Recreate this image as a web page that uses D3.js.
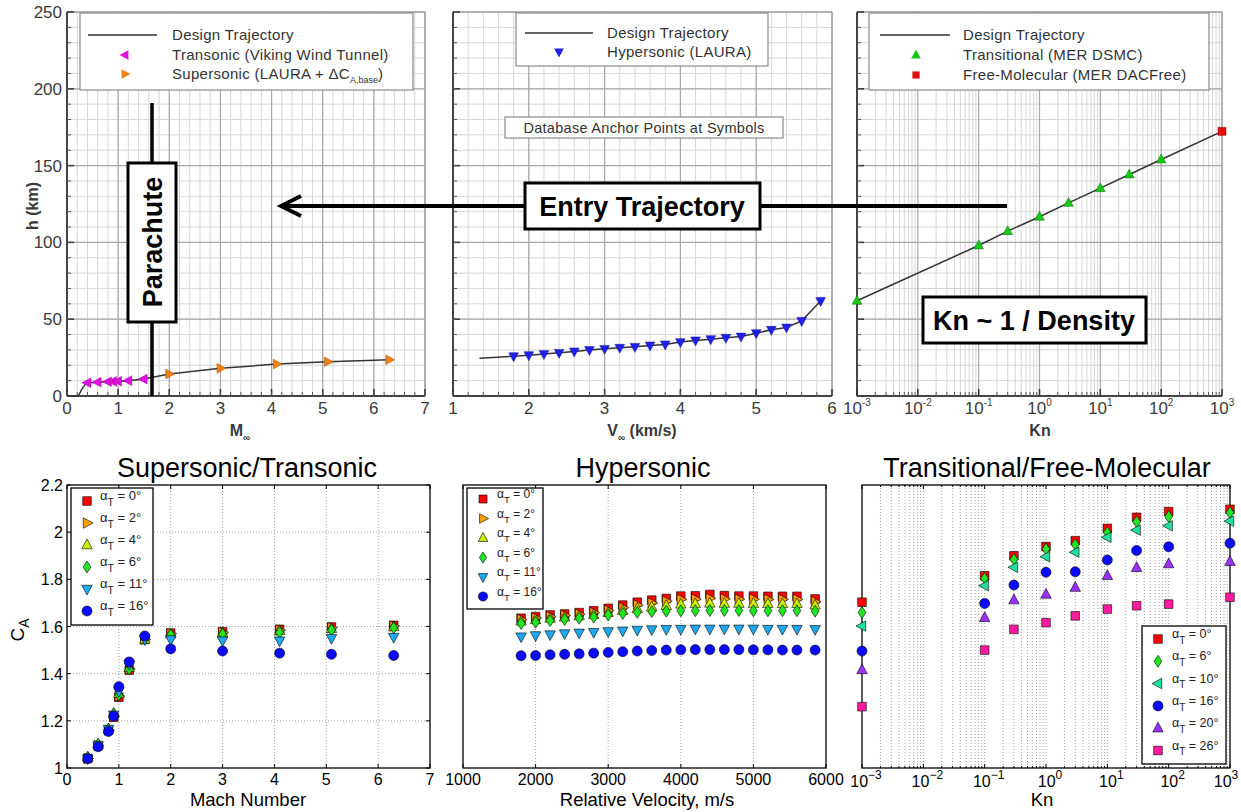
<!DOCTYPE html>
<html><head><meta charset="utf-8">
<script src="https://cdn.jsdelivr.net/npm/d3@7"></script>
<style>body{margin:0;background:#fff;} text{font-family:"Liberation Sans",Arial,Helvetica,sans-serif;}</style>
</head><body><svg id="c" width="1241" height="812"></svg>
<script>
// ---------------- DATA ----------------
// Top row: altitude h (km)
const topHTicks = [0, 50, 100, 150, 200, 250];
const topMachTicks = [0, 1, 2, 3, 4, 5, 6, 7];
const topVelTicks = [1, 2, 3, 4, 5, 6];
const knExps = [-3, -2, -1, 0, 1, 2, 3];

const trajMach  = [0, 0.22, 0.3, 0.38, 0.6, 0.8, 0.9, 1.0, 1.2, 1.5, 2, 3, 4.1, 5.1, 6.3];
const trajMachH = [0, 0, 5, 8.4, 9, 9.3, 9.5, 9.6, 10, 11, 14.3, 18, 20.8, 22.3, 23.6];
const transMach = [0.4, 0.6, 0.8, 0.9, 1.0, 1.2, 1.5];
const transH    = [8.6, 9, 9.3, 9.5, 9.6, 10, 11];
const superMach = [2, 3, 4.1, 5.1, 6.3];
const superH    = [14.3, 18, 20.8, 22.3, 23.6];

const trajVel  = [1.35, 1.8, 2.0, 2.2, 2.4, 2.6, 2.8, 3.0, 3.2, 3.4, 3.6, 3.8, 4.0, 4.2, 4.4, 4.6, 4.8, 5.0, 5.2, 5.4, 5.6, 5.85];
const trajVelH = [24.6, 25.9, 26.6, 27.3, 28.1, 29.0, 29.9, 30.7, 31.4, 32.0, 32.9, 33.6, 35.1, 36.2, 37.0, 37.9, 38.7, 40.9, 43.1, 44.6, 48.9, 61.9];
const hyperVel = [1.8, 2.0, 2.2, 2.4, 2.6, 2.8, 3.0, 3.2, 3.4, 3.6, 3.8, 4.0, 4.2, 4.4, 4.6, 4.8, 5.0, 5.2, 5.4, 5.6, 5.85];
const hyperH   = [25.9, 26.6, 27.3, 28.1, 29.0, 29.9, 30.7, 31.4, 32.0, 32.9, 33.6, 35.1, 36.2, 37.0, 37.9, 38.7, 40.9, 43.1, 44.6, 48.9, 61.9];

const trajKn  = [1e-3, 0.1, 0.3, 1, 3, 10, 30, 100, 1000];
const trajKnH = [62, 98, 107.3, 116.7, 125.7, 135.3, 144.2, 154, 172.3];
const transKn  = [1e-3, 0.1, 0.3, 1, 3, 10, 30, 100];
const transKnH = [62, 98, 107.3, 116.7, 125.7, 135.3, 144.2, 154];
const freeKn  = [1000];
const freeKnH = [172.3];

// Bottom row: axial force coefficient C_A
const caTicks = [1, 1.2, 1.4, 1.6, 1.8, 2, 2.2];
const machTicks = [0, 1, 2, 3, 4, 5, 6, 7];
const velTicks = [1000, 2000, 3000, 4000, 5000, 6000];

const mach = [0.4, 0.6, 0.8, 0.9, 1.0, 1.2, 1.5, 2, 3, 4.1, 5.1, 6.3];
const ssA0  = [1.040, 1.095, 1.160, 1.215, 1.300, 1.415, 1.545, 1.572, 1.578, 1.588, 1.598, 1.605];
const ssA2  = [1.040, 1.095, 1.160, 1.220, 1.305, 1.420, 1.545, 1.570, 1.575, 1.585, 1.595, 1.602];
const ssA4  = [1.045, 1.100, 1.165, 1.230, 1.315, 1.425, 1.545, 1.568, 1.572, 1.582, 1.590, 1.598];
const ssA6  = [1.045, 1.100, 1.165, 1.230, 1.310, 1.420, 1.550, 1.565, 1.568, 1.575, 1.585, 1.595];
const ssA11 = [1.040, 1.095, 1.165, 1.225, 1.325, 1.440, 1.545, 1.545, 1.540, 1.540, 1.550, 1.555];
const ssA16 = [1.040, 1.090, 1.155, 1.220, 1.345, 1.450, 1.560, 1.505, 1.496, 1.487, 1.482, 1.477];

const vel = [1800, 2000, 2200, 2400, 2600, 2800, 3000, 3200, 3400, 3600, 3800, 4000, 4200, 4400, 4600, 4800, 5000, 5200, 5400, 5600, 5850];
const hyA0  = [1.635, 1.642, 1.649, 1.653, 1.659, 1.667, 1.677, 1.691, 1.703, 1.712, 1.719, 1.729, 1.730, 1.736, 1.731, 1.729, 1.729, 1.728, 1.728, 1.728, 1.717];
const hyA2  = [1.630, 1.636, 1.642, 1.647, 1.652, 1.659, 1.668, 1.680, 1.691, 1.700, 1.707, 1.715, 1.716, 1.719, 1.717, 1.716, 1.716, 1.715, 1.715, 1.715, 1.705];
const hyA4  = [1.622, 1.628, 1.634, 1.639, 1.644, 1.650, 1.658, 1.667, 1.675, 1.682, 1.688, 1.694, 1.696, 1.698, 1.697, 1.697, 1.697, 1.696, 1.696, 1.696, 1.690];
const hyA6  = [1.613, 1.618, 1.625, 1.630, 1.635, 1.640, 1.649, 1.655, 1.660, 1.663, 1.665, 1.667, 1.667, 1.668, 1.668, 1.668, 1.667, 1.667, 1.667, 1.667, 1.665];
const hyA11 = [1.557, 1.562, 1.566, 1.570, 1.573, 1.576, 1.579, 1.582, 1.585, 1.587, 1.588, 1.589, 1.590, 1.590, 1.590, 1.590, 1.590, 1.589, 1.589, 1.589, 1.588];
const hyA16 = [1.476, 1.477, 1.480, 1.482, 1.484, 1.487, 1.490, 1.493, 1.496, 1.498, 1.500, 1.501, 1.502, 1.502, 1.502, 1.502, 1.501, 1.501, 1.500, 1.500, 1.500];

const kn = [1e-3, 0.1, 0.3, 1, 3, 10, 30, 100, 1000];
const fmA0  = [1.703, 1.815, 1.900, 1.939, 1.964, 2.016, 2.063, 2.087, 2.097];
const fmA6  = [1.659, 1.804, 1.885, 1.929, 1.948, 1.999, 2.044, 2.066, 2.083];
const fmA10 = [1.602, 1.773, 1.851, 1.896, 1.915, 1.978, 2.009, 2.027, 2.047];
const fmA16 = [1.496, 1.698, 1.776, 1.830, 1.832, 1.882, 1.922, 1.938, 1.953];
const fmA20 = [1.416, 1.637, 1.712, 1.736, 1.765, 1.815, 1.849, 1.865, 1.875];
const fmA26 = [1.260, 1.500, 1.588, 1.616, 1.645, 1.674, 1.688, 1.695, 1.724];

// ---------------- DRAWING ----------------
const svg = d3.select('#c');
svg.append('rect').attr('width', 1241).attr('height', 812).attr('fill', '#fff');

function shape(type, s) {
  const p = d3.path();
  if (type === 'square') { p.rect(-s, -s, 2 * s, 2 * s); }
  else if (type === 'circle') { p.arc(0, 0, s, 0, 2 * Math.PI); p.closePath(); }
  else if (type === 'diamond') { p.moveTo(0, -s * 1.3); p.lineTo(s * 0.85, 0); p.lineTo(0, s * 1.3); p.lineTo(-s * 0.85, 0); p.closePath(); }
  else {
    const pts = {
      up: [[0, -1.2], [1.05, 0.75], [-1.05, 0.75]],
      down: [[0, 1.2], [1.05, -0.75], [-1.05, -0.75]],
      left: [[-1.2, 0], [0.75, -1.05], [0.75, 1.05]],
      right: [[1.2, 0], [-0.75, -1.05], [-0.75, 1.05]]
    }[type];
    p.moveTo(pts[0][0] * s, pts[0][1] * s);
    p.lineTo(pts[1][0] * s, pts[1][1] * s);
    p.lineTo(pts[2][0] * s, pts[2][1] * s);
    p.closePath();
  }
  return p.toString();
}

// ===== TOP ROW =====
const hY = d3.scaleLinear().domain([0, 250]).range([396, 12]);
const xMach = d3.scaleLinear().domain([0, 7]).range([67, 425]);
const xVel = d3.scaleLinear().domain([1, 6]).range([453, 832]);
const xKnT = d3.scaleLog().domain([1e-3, 1e3]).range([857, 1222]);

function logMinors(lo, hi) {
  const out = [];
  for (let d = lo; d < hi; d++) for (let m = 2; m <= 9; m++) out.push(m * Math.pow(10, d));
  return out;
}

function topFrame(x, majors, minors) {
  const g = svg.append('g');
  const [x0, x1] = x.range();
  const y0 = hY(0), y1 = hY(250);
  const hMinor = d3.range(0, 251, 10);
  g.selectAll('.vm').data(minors).join('line')
    .attr('x1', d => x(d)).attr('x2', d => x(d)).attr('y1', y1).attr('y2', y0)
    .attr('stroke', '#d6d6d6').attr('stroke-width', 1);
  g.selectAll('.hm').data(hMinor).join('line')
    .attr('x1', x0).attr('x2', x1).attr('y1', d => hY(d)).attr('y2', d => hY(d))
    .attr('stroke', '#d6d6d6').attr('stroke-width', 1);
  g.selectAll('.vM').data(majors).join('line')
    .attr('x1', d => x(d)).attr('x2', d => x(d)).attr('y1', y1).attr('y2', y0)
    .attr('stroke', '#a8a8a8').attr('stroke-width', 1.2);
  g.selectAll('.hM').data(topHTicks).join('line')
    .attr('x1', x0).attr('x2', x1).attr('y1', d => hY(d)).attr('y2', d => hY(d))
    .attr('stroke', '#a8a8a8').attr('stroke-width', 1.2);
  g.append('rect').attr('x', x0).attr('y', y1).attr('width', x1 - x0).attr('height', y0 - y1)
    .attr('fill', 'none').attr('stroke', '#9a9a9a').attr('stroke-width', 1);
  g.append('line').attr('x1', x0).attr('x2', x0).attr('y1', y1).attr('y2', y0).attr('stroke', '#444').attr('stroke-width', 2);
  g.append('line').attr('x1', x0).attr('x2', x1).attr('y1', y0).attr('y2', y0).attr('stroke', '#444').attr('stroke-width', 2);
  g.selectAll('.tM').data(majors).join('line')
    .attr('x1', d => x(d)).attr('x2', d => x(d)).attr('y1', y0).attr('y2', y0 - 7).attr('stroke', '#333').attr('stroke-width', 1.5);
  g.selectAll('.tm').data(minors).join('line')
    .attr('x1', d => x(d)).attr('x2', d => x(d)).attr('y1', y0).attr('y2', y0 - 4).attr('stroke', '#555').attr('stroke-width', 1);
  g.selectAll('.tyM').data(topHTicks).join('line')
    .attr('x1', x0).attr('x2', x0 + 7).attr('y1', d => hY(d)).attr('y2', d => hY(d)).attr('stroke', '#333').attr('stroke-width', 1.5);
  g.selectAll('.tym').data(hMinor).join('line')
    .attr('x1', x0).attr('x2', x0 + 4).attr('y1', d => hY(d)).attr('y2', d => hY(d)).attr('stroke', '#555').attr('stroke-width', 1);
  return g;
}

const tickFont = 17, tickCol = '#3a3a3a';
// Panel 1
const g1 = topFrame(xMach, topMachTicks, d3.range(0, 7.001, 0.2));
g1.selectAll('.xl').data(topMachTicks).join('text')
  .attr('x', d => xMach(d)).attr('y', 414).attr('text-anchor', 'middle')
  .attr('font-size', tickFont).attr('fill', tickCol).text(d => d);
g1.selectAll('.yl').data(topHTicks).join('text')
  .attr('x', 62).attr('y', d => hY(d) + 6).attr('text-anchor', 'end')
  .attr('font-size', tickFont).attr('fill', tickCol).text(d => d);
svg.append('text').attr('transform', 'translate(38,206) rotate(-90)').attr('text-anchor', 'middle')
  .attr('font-size', 16).attr('font-weight', 'bold').attr('fill', '#3a3a3a').text('h (km)');
{
  const t = svg.append('text').attr('x', 240).attr('y', 436).attr('text-anchor', 'middle')
    .attr('font-size', 16).attr('font-weight', 'bold').attr('fill', '#3a3a3a');
  t.append('tspan').text('M');
  t.append('tspan').attr('font-size', 10).attr('dy', 5).text('∞');
}
const lineGen = (x, xs, ys) => d3.line().x(i => x(xs[i])).y(i => hY(ys[i]))(d3.range(xs.length));
g1.append('path').attr('d', lineGen(xMach, trajMach, trajMachH)).attr('fill', 'none').attr('stroke', '#333').attr('stroke-width', 1.5);
g1.selectAll('.tr').data(transMach).join('path')
  .attr('transform', (d, i) => `translate(${xMach(d)},${hY(transH[i])})`)
  .attr('d', shape('left', 4.6)).attr('fill', '#e010e0').attr('stroke', '#a000a0').attr('stroke-width', 0.5);
g1.selectAll('.su').data(superMach).join('path')
  .attr('transform', (d, i) => `translate(${xMach(d)},${hY(superH[i])})`)
  .attr('d', shape('right', 4.6)).attr('fill', '#f08010').attr('stroke', '#a05000').attr('stroke-width', 0.5);

// Panel 2
const g2 = topFrame(xVel, topVelTicks, d3.range(1, 6.001, 0.2));
g2.selectAll('.xl').data(topVelTicks).join('text')
  .attr('x', d => xVel(d)).attr('y', 414).attr('text-anchor', 'middle')
  .attr('font-size', tickFont).attr('fill', tickCol).text(d => d);
{
  const t = svg.append('text').attr('x', 642).attr('y', 436).attr('text-anchor', 'middle')
    .attr('font-size', 16).attr('font-weight', 'bold').attr('fill', '#3a3a3a');
  t.append('tspan').text('V');
  t.append('tspan').attr('font-size', 10).attr('dy', 5).text('∞');
  t.append('tspan').attr('dy', -5).text(' (km/s)');
}
g2.append('path').attr('d', lineGen(xVel, trajVel, trajVelH)).attr('fill', 'none').attr('stroke', '#333').attr('stroke-width', 1.5);
g2.selectAll('.hy').data(hyperVel).join('path')
  .attr('transform', (d, i) => `translate(${xVel(d)},${hY(hyperH[i])})`)
  .attr('d', shape('down', 4.6)).attr('fill', '#2020e8').attr('stroke', '#10108a').attr('stroke-width', 0.5);

// Panel 3
const g3 = topFrame(xKnT, knExps.map(e => Math.pow(10, e)), logMinors(-3, 3));
knExps.forEach(e => {
  const t = g3.append('text').attr('x', xKnT(Math.pow(10, e))).attr('y', 414).attr('text-anchor', 'middle')
    .attr('font-size', tickFont).attr('fill', tickCol);
  t.append('tspan').text('10');
  t.append('tspan').attr('font-size', 10).attr('dy', -8).text(e);
});
svg.append('text').attr('x', 1040).attr('y', 436).attr('text-anchor', 'middle')
  .attr('font-size', 16).attr('font-weight', 'bold').attr('fill', '#3a3a3a').text('Kn');
g3.append('path').attr('d', lineGen(xKnT, trajKn, trajKnH)).attr('fill', 'none').attr('stroke', '#333').attr('stroke-width', 1.5);
g3.selectAll('.tk').data(transKn).join('path')
  .attr('transform', (d, i) => `translate(${xKnT(d)},${hY(transKnH[i])})`)
  .attr('d', shape('up', 4.6)).attr('fill', '#18c818').attr('stroke', '#0a700a').attr('stroke-width', 0.5);
g3.selectAll('.fk').data(freeKn).join('path')
  .attr('transform', (d, i) => `translate(${xKnT(d)},${hY(freeKnH[i])})`)
  .attr('d', shape('square', 4)).attr('fill', '#e01010').attr('stroke', '#900').attr('stroke-width', 0.5);

// Top legends
function topLegend(x, y, w, h) {
  const g = svg.append('g');
  g.append('rect').attr('x', x).attr('y', y).attr('width', w).attr('height', h)
    .attr('fill', '#fff').attr('stroke', '#8a8a8a').attr('stroke-width', 1.2);
  return g;
}
const legTxt = (g, x, y) => g.append('text').attr('x', x).attr('y', y + 5).attr('font-size', 15).attr('letter-spacing', 0.3).attr('fill', '#333');
{
  const g = topLegend(80, 13, 333, 77);
  g.append('line').attr('x1', 88).attr('x2', 157).attr('y1', 35).attr('y2', 35).attr('stroke', '#333').attr('stroke-width', 1.5);
  legTxt(g, 172, 35).text('Design Trajectory');
  g.append('path').attr('transform', 'translate(125,55)').attr('d', shape('left', 4.6)).attr('fill', '#e010e0');
  legTxt(g, 172, 55).text('Transonic (Viking Wind Tunnel)');
  g.append('path').attr('transform', 'translate(125,74)').attr('d', shape('right', 4.6)).attr('fill', '#f08010');
  const t = legTxt(g, 172, 74);
  t.append('tspan').text('Supersonic (LAURA + ΔC');
  t.append('tspan').attr('font-size', 9).attr('dy', 4).attr('letter-spacing', 0).text('A,base');
  t.append('tspan').attr('dy', -4).text(')');
}
{
  const g = topLegend(516, 13, 252, 53);
  g.append('line').attr('x1', 525).attr('x2', 593).attr('y1', 33).attr('y2', 33).attr('stroke', '#333').attr('stroke-width', 1.5);
  legTxt(g, 607, 33).text('Design Trajectory');
  g.append('path').attr('transform', 'translate(559,52)').attr('d', shape('down', 4.6)).attr('fill', '#2020e8');
  legTxt(g, 607, 52).text('Hypersonic (LAURA)');
}
{
  const g = topLegend(869, 13, 340, 77);
  g.append('line').attr('x1', 880).attr('x2', 950).attr('y1', 35).attr('y2', 35).attr('stroke', '#333').attr('stroke-width', 1.5);
  legTxt(g, 963, 35).text('Design Trajectory');
  g.append('path').attr('transform', 'translate(916,55)').attr('d', shape('up', 4.6)).attr('fill', '#18c818');
  legTxt(g, 963, 55).text('Transitional (MER DSMC)');
  g.append('path').attr('transform', 'translate(916,75)').attr('d', shape('square', 3.6)).attr('fill', '#e01010');
  legTxt(g, 963, 75).text('Free-Molecular (MER DACFree)');
}
svg.append('rect').attr('x', 505).attr('y', 117).attr('width', 278).attr('height', 21)
  .attr('fill', '#fff').attr('stroke', '#8a8a8a').attr('stroke-width', 1.2);
svg.append('text').attr('x', 644).attr('y', 133).attr('text-anchor', 'middle').attr('font-size', 14.5)
  .attr('letter-spacing', 0.3).attr('fill', '#333').text('Database Anchor Points at Symbols');

// Annotations
svg.append('line').attr('x1', 283).attr('x2', 1007).attr('y1', 206).attr('y2', 206).attr('stroke', '#000').attr('stroke-width', 4);
svg.append('path').attr('d', 'M301,196L281,206L301,216').attr('fill', 'none').attr('stroke', '#000').attr('stroke-width', 4).attr('stroke-linejoin', 'miter');
svg.append('rect').attr('x', 525).attr('y', 183).attr('width', 235).attr('height', 46).attr('fill', '#fff').attr('stroke', '#000').attr('stroke-width', 3);
svg.append('text').attr('x', 642).attr('y', 216).attr('text-anchor', 'middle').attr('font-size', 27).attr('font-weight', 'bold').text('Entry Trajectory');

svg.append('line').attr('x1', 152).attr('x2', 152).attr('y1', 103).attr('y2', 396).attr('stroke', '#000').attr('stroke-width', 3.5);
svg.append('rect').attr('x', 128).attr('y', 163).attr('width', 48).attr('height', 159).attr('fill', '#fff').attr('stroke', '#000').attr('stroke-width', 3);
svg.append('text').attr('transform', 'translate(162,242) rotate(-90)').attr('text-anchor', 'middle').attr('font-size', 27).attr('font-weight', 'bold').text('Parachute');

svg.append('rect').attr('x', 923).attr('y', 297).attr('width', 223).attr('height', 46).attr('fill', '#fff').attr('stroke', '#000').attr('stroke-width', 3);
svg.append('text').attr('x', 1034).attr('y', 330).attr('text-anchor', 'middle').attr('font-size', 27).attr('font-weight', 'bold').text('Kn ~ 1 / Density');

// ===== BOTTOM ROW =====
const caY = d3.scaleLinear().domain([1, 2.2]).range([768, 485]);
const p4x = d3.scaleLinear().domain([0, 7]).range([67, 430]);
const p5x = d3.scaleLinear().domain([1000, 6000]).range([463, 826]);
const p6x = d3.scaleLog().domain([1e-3, 1e3]).range([862, 1230]);
const yT = caY.range()[1], yB = caY.range()[0];

function dottedV(g, x, vals) {
  g.selectAll(null).data(vals).join('line')
    .attr('x1', d => x(d)).attr('x2', d => x(d)).attr('y1', yT).attr('y2', yB)
    .attr('stroke', '#8a8a8a').attr('stroke-width', 0.8).attr('stroke-dasharray', '1,2');
}
function dottedH(g, x, vals) {
  const [x0, x1] = x.range();
  g.selectAll(null).data(vals).join('line')
    .attr('x1', x0).attr('x2', x1).attr('y1', d => caY(d)).attr('y2', d => caY(d))
    .attr('stroke', '#8a8a8a').attr('stroke-width', 0.8).attr('stroke-dasharray', '1,2');
}
function bottomFrame(g, x, xt, yt, len) {
  const [x0, x1] = x.range();
  g.append('rect').attr('x', x0).attr('y', yT).attr('width', x1 - x0).attr('height', yB - yT)
    .attr('fill', 'none').attr('stroke', '#000').attr('stroke-width', 1.3);
  g.selectAll(null).data(xt).join('line').attr('x1', d => x(d)).attr('x2', d => x(d)).attr('y1', yB).attr('y2', yB - len).attr('stroke', '#000');
  g.selectAll(null).data(xt).join('line').attr('x1', d => x(d)).attr('x2', d => x(d)).attr('y1', yT).attr('y2', yT + len).attr('stroke', '#000');
  g.selectAll(null).data(yt).join('line').attr('x1', x0).attr('x2', x0 + len).attr('y1', d => caY(d)).attr('y2', d => caY(d)).attr('stroke', '#000');
  g.selectAll(null).data(yt).join('line').attr('x1', x1).attr('x2', x1 - len).attr('y1', d => caY(d)).attr('y2', d => caY(d)).attr('stroke', '#000');
}
function series(g, x, xs, ys, type, s, color) {
  g.selectAll(null).data(xs).join('path')
    .attr('transform', (d, i) => `translate(${x(d)},${caY(ys[i])})`)
    .attr('d', shape(type, s)).attr('fill', color).attr('stroke', '#000').attr('stroke-width', 0.6);
}
function alphaLegend(g, bx, by, bw, bh, mx, tx, rows, step, fs, items) {
  g.append('rect').attr('x', bx).attr('y', by).attr('width', bw).attr('height', bh)
    .attr('fill', '#fff').attr('stroke', '#000').attr('stroke-width', 1.3);
  items.forEach((it, i) => {
    const cy = rows + i * step;
    g.append('path').attr('transform', `translate(${mx},${cy})`).attr('d', shape(it.type, it.s))
      .attr('fill', it.color).attr('stroke', '#000').attr('stroke-width', 0.6);
    const t = g.append('text').attr('x', tx).attr('y', cy - 1).attr('font-size', fs).attr('fill', '#222');
    t.append('tspan').text('α');
    t.append('tspan').attr('font-size', fs * 0.8).attr('dy', fs * 0.45).text('T');
    t.append('tspan').attr('dy', -fs * 0.45).text(' = ' + it.deg + '°');
  });
}
const tickFS = 16;
const tickBase = 785, labelBase = 806;

// Panel 4
{
  const g = svg.append('g');
  dottedV(g, p4x, machTicks.slice(1, -1));
  dottedH(g, p4x, caTicks.slice(1, -1));
  bottomFrame(g, p4x, machTicks, caTicks, 4);
  g.selectAll(null).data(machTicks).join('text').attr('x', d => p4x(d)).attr('y', tickBase)
    .attr('text-anchor', 'middle').attr('font-size', tickFS).text(d => d);
  g.selectAll(null).data(caTicks).join('text').attr('x', 63).attr('y', d => caY(d) + 6)
    .attr('text-anchor', 'end').attr('font-size', tickFS).text(d => d);
  g.append('text').attr('x', 247).attr('y', 477).attr('text-anchor', 'middle').attr('font-size', 27).text('Supersonic/Transonic');
  g.append('text').attr('x', 248).attr('y', labelBase).attr('text-anchor', 'middle').attr('font-size', 18.5).text('Mach Number');
  const t = g.append('text').attr('transform', 'translate(24,630) rotate(-90)').attr('text-anchor', 'middle').attr('font-size', 19);
  t.append('tspan').text('C');
  t.append('tspan').attr('font-size', 14).attr('dy', 5).text('A');
  series(g, p4x, mach, ssA0, 'square', 4.3, '#ff0000');
  series(g, p4x, mach, ssA2, 'right', 5, '#ffa000');
  series(g, p4x, mach, ssA4, 'up', 5, '#c8f000');
  series(g, p4x, mach, ssA6, 'diamond', 4.6, '#22e622');
  series(g, p4x, mach, ssA11, 'down', 5, '#1ea8f0');
  series(g, p4x, mach, ssA16, 'circle', 5, '#0a0aff');
  alphaLegend(g, 71, 488, 82, 137, 87, 100, 501, 22, 13, [
    {type: 'square', s: 4.3, color: '#ff0000', deg: 0},
    {type: 'right', s: 5, color: '#ffa000', deg: 2},
    {type: 'up', s: 5, color: '#c8f000', deg: 4},
    {type: 'diamond', s: 4.6, color: '#22e622', deg: 6},
    {type: 'down', s: 5, color: '#1ea8f0', deg: 11},
    {type: 'circle', s: 5, color: '#0a0aff', deg: 16}]);
}
// Panel 5
{
  const g = svg.append('g');
  dottedV(g, p5x, velTicks.slice(1, -1));
  bottomFrame(g, p5x, velTicks, [], 4);
  g.selectAll(null).data(velTicks).join('text').attr('x', d => p5x(d)).attr('y', tickBase)
    .attr('text-anchor', 'middle').attr('font-size', tickFS).text(d => d);
  g.append('text').attr('x', 643).attr('y', 477).attr('text-anchor', 'middle').attr('font-size', 27).text('Hypersonic');
  g.append('text').attr('x', 647).attr('y', labelBase).attr('text-anchor', 'middle').attr('font-size', 18.5).text('Relative Velocity, m/s');
  series(g, p5x, vel, hyA0, 'square', 4.3, '#ff0000');
  series(g, p5x, vel, hyA2, 'right', 5, '#ffa000');
  series(g, p5x, vel, hyA4, 'up', 5, '#c8f000');
  series(g, p5x, vel, hyA6, 'diamond', 4.6, '#22e622');
  series(g, p5x, vel, hyA11, 'down', 5, '#1ea8f0');
  series(g, p5x, vel, hyA16, 'circle', 5, '#0a0aff');
  alphaLegend(g, 467, 488, 76, 121, 483, 497, 499, 19.5, 12, [
    {type: 'square', s: 4, color: '#ff0000', deg: 0},
    {type: 'right', s: 4.6, color: '#ffa000', deg: 2},
    {type: 'up', s: 4.6, color: '#c8f000', deg: 4},
    {type: 'diamond', s: 4.3, color: '#22e622', deg: 6},
    {type: 'down', s: 4.6, color: '#1ea8f0', deg: 11},
    {type: 'circle', s: 4.6, color: '#0a0aff', deg: 16}]);
}
// Panel 6
{
  const g = svg.append('g');
  const majors = knExps.map(e => Math.pow(10, e));
  dottedV(g, p6x, logMinors(-3, 3).concat(majors.slice(1, -1)));
  bottomFrame(g, p6x, majors, [], 4);
  const mins = logMinors(-3, 3);
  g.selectAll(null).data(mins).join('line').attr('x1', d => p6x(d)).attr('x2', d => p6x(d)).attr('y1', yB).attr('y2', yB - 2).attr('stroke', '#000');
  g.selectAll(null).data(mins).join('line').attr('x1', d => p6x(d)).attr('x2', d => p6x(d)).attr('y1', yT).attr('y2', yT + 2).attr('stroke', '#000');
  knExps.forEach(e => {
    const px = Math.min(p6x(Math.pow(10, e)) + 4, 1226);
    const t = g.append('text').attr('x', px).attr('y', tickBase + 2).attr('text-anchor', 'middle').attr('font-size', tickFS);
    t.append('tspan').text('10');
    t.append('tspan').attr('font-size', 12).attr('dy', -8).text(e < 0 ? '−' + (-e) : e);
  });
  g.append('text').attr('x', 1047).attr('y', 477).attr('text-anchor', 'middle').attr('font-size', 27).text('Transitional/Free-Molecular');
  g.append('text').attr('x', 1042).attr('y', 806).attr('text-anchor', 'middle').attr('font-size', 18.5).text('Kn');
  series(g, p6x, kn, fmA0, 'square', 4.3, '#ff0000');
  series(g, p6x, kn, fmA6, 'diamond', 4.6, '#22e622');
  series(g, p6x, kn, fmA10, 'left', 5, '#22e0a0');
  series(g, p6x, kn, fmA16, 'circle', 5, '#0a0aff');
  series(g, p6x, kn, fmA20, 'up', 5, '#9b30ff');
  series(g, p6x, kn, fmA26, 'square', 4.3, '#ff1aa0');
  alphaLegend(g, 1142, 626, 84, 138, 1158, 1172, 639, 22.3, 12.5, [
    {type: 'square', s: 4.3, color: '#ff0000', deg: 0},
    {type: 'diamond', s: 4.6, color: '#22e622', deg: 6},
    {type: 'left', s: 5, color: '#22e0a0', deg: 10},
    {type: 'circle', s: 5, color: '#0a0aff', deg: 16},
    {type: 'up', s: 5, color: '#9b30ff', deg: 20},
    {type: 'square', s: 4.3, color: '#ff1aa0', deg: 26}]);
}
</script></body></html>
